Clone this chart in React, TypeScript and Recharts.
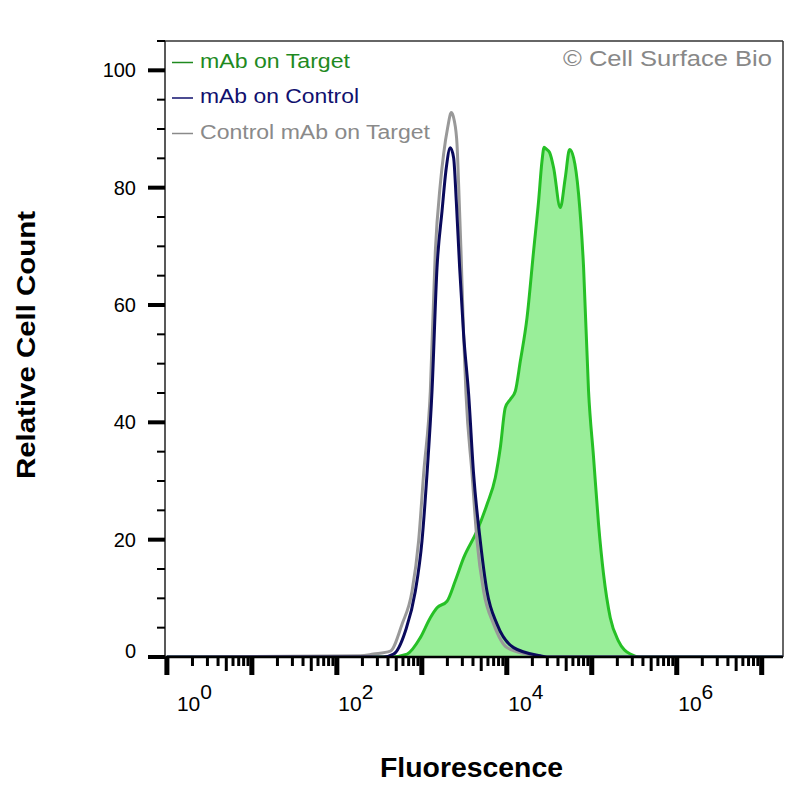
import React from 'react';
import { ComposedChart, Line, Area, XAxis, YAxis, ReferenceLine } from 'recharts';

// Fluorescence (x) / relative cell count (y)
const controlMabOnTarget: [number, number][] = [
  [1, 0], [189, 0.2], [269, 0.5], [426, 1], [585, 5.6], [767, 11.2], [917, 19.8], [1050, 31.2],
  [1259, 45.3], [1442, 69.2], [1651, 80.6], [1804, 85.7], [2013, 90.2], [2223, 92.8], [2411, 91.4],
  [2595, 87.4], [2710, 80.6], [2891, 69.2], [3103, 55], [3311, 44.8], [3900, 31.2], [4460, 19.8],
  [5335, 11.2], [7000, 5.6], [10050, 1.6], [17290, 0.5], [29720, 0], [17800000, 0],
];

const mabOnControl: [number, number][] = [
  [1, 0], [352, 0], [466, 0.5], [640, 4.4], [839, 11.2], [1005, 19.8], [1151, 31.2], [1318, 45.3],
  [1510, 66.4], [1729, 76], [1941, 83.4], [2163, 86.8], [2367, 85.1], [2545, 77.7], [2786, 66.4],
  [3103, 55], [3555, 44.8], [4067, 31.2], [4875, 19.8], [5846, 11.2], [7674, 5.6], [12030, 1.6],
  [24780, 0.2], [29720, 0], [17800000, 0],
];

const mabOnTarget: [number, number][] = [
  [1, 0], [426, 0], [670, 0.5], [960, 3.3], [1259, 6.7], [1510, 8.4], [1979, 9.5], [2478, 13],
  [3103, 16.9], [4460, 21.5], [5846, 26], [7330, 30.6], [8395, 35.7], [9600, 42.5], [10990, 43.9],
  [12590, 45.3], [14420, 50.4], [17290, 57.8], [20670, 69.2], [23660, 77.7], [25940, 84.5],
  [27500, 86.9], [29000, 86.6], [31900, 86], [35560, 83.4], [42590, 76.6], [48780, 81.7],
  [54800, 86.5], [61100, 85.1], [69950, 78.9], [80100, 66.4], [91650, 45.3], [105000, 34],
  [120200, 22.6], [137600, 14.1], [165100, 6.7], [206400, 2.7], [283800, 0.5], [372100, 0],
  [17800000, 0],
];

const yMajorTicks = [0, 20, 40, 60, 80, 100];
const yAllTicks = [0, 5, 10, 15, 20, 25, 30, 35, 40, 45, 50, 55, 60, 65, 70, 75, 80, 85, 90, 95, 100, 105];
const xDecades = [0, 1, 2, 3, 4, 5, 6, 7];
const xLabeledDecades = [0, 2, 4, 6];
const xMinorMantissas = [2, 3, 4, 5, 6, 7, 8, 9];

const legendItems = [
  { label: 'mAb on Target', color: '#1f8a1f', len: 150 },
  { label: 'mAb on Control', color: '#10106e', len: 159 },
  { label: 'Control mAb on Target', color: '#8a8a8a', len: 230 },
];

const toPts = (arr: [number, number][]) => arr.map(([x, y]) => ({ x, y }));

const xTicks: number[] = [];
xDecades.forEach((d) => {
  xTicks.push(Math.pow(10, d));
  if (d < 7) xMinorMantissas.forEach((m) => xTicks.push(m * Math.pow(10, d)));
});

const FONT = '"Liberation Sans", Arial, Helvetica, sans-serif';

const XTick = (props: any) => {
  const { x, y, payload } = props;
  const v = payload.value as number;
  const lg = Math.log10(v);
  const d = Math.round(lg);
  const isMajor = Math.abs(lg - d) < 1e-6;
  if (isMajor) {
    const labeled = xLabeledDecades.includes(d);
    const tx = x + (d === 0 ? 10 : 1.5);
    return (
      <g>
        <rect x={x - 2.5} y={y} width={5} height={18} fill="#000" />
        {labeled && (
          <text x={tx} y={y + 54} fontSize={21} fontFamily={FONT} fill="#000">
            <tspan>10</tspan>
            <tspan dy={-12}>{d}</tspan>
          </text>
        )}
      </g>
    );
  }
  const mant = Math.round(v / Math.pow(10, Math.floor(lg + 1e-9)));
  const h = mant === 5 ? 14 : 9;
  return <rect x={x - 1.5} y={y} width={3} height={h} fill="#000" />;
};

const YTick = (props: any) => {
  const { x, y, payload } = props;
  const v = payload.value as number;
  const isMajor = yMajorTicks.includes(v);
  if (isMajor) {
    return (
      <g>
        <rect x={x - 17} y={y - 2} width={17} height={4} fill="#000" />
        <text x={x - 29} y={y + 7 - (v === 0 ? 6 : 0)} textAnchor="end" fontSize={20} fontFamily={FONT} fill="#000">
          {v}
        </text>
      </g>
    );
  }
  return <rect x={x - 8} y={y - 1} width={8} height={2} fill="#000" />;
};

export default function App() {
  return (
    <div style={{ position: 'absolute', left: 0, top: 0, width: 800, height: 800, background: '#fff' }}>
      <ComposedChart
        width={800}
        height={800}
        margin={{ top: 41, right: 17, bottom: 83, left: 0 }}
      >
        <XAxis
          type="number"
          dataKey="x"
          scale="log"
          domain={[0.95, 17800000]}
          allowDataOverflow
          ticks={xTicks}
          interval={0}
          tickSize={0}
          tickMargin={0}
          tickLine={false}
          tick={<XTick />}
          height={60}
          axisLine={{ stroke: '#000', strokeWidth: 2.5 }}
        />
        <YAxis
          type="number"
          dataKey="y"
          domain={[0, 105]}
          allowDataOverflow
          ticks={yAllTicks}
          interval={0}
          tickSize={0}
          tickMargin={0}
          tickLine={false}
          tick={<YTick />}
          width={165}
          axisLine={{ stroke: '#222', strokeWidth: 1.5 }}
        />
        <ReferenceLine y={105} stroke="#333" strokeWidth={1.5} />
        <ReferenceLine x={17800000} stroke="#333" strokeWidth={1.5} />
        <Line
          data={toPts(controlMabOnTarget)}
          dataKey="y"
          type="monotone"
          stroke="#999999"
          strokeWidth={3}
          dot={false}
          activeDot={false}
          isAnimationActive={false}
        />
        <Line
          data={toPts(mabOnControl)}
          dataKey="y"
          type="monotone"
          stroke="#0a0a5c"
          strokeWidth={3}
          dot={false}
          activeDot={false}
          isAnimationActive={false}
        />
        <Area
          data={toPts(mabOnTarget)}
          dataKey="y"
          type="monotone"
          stroke="#26c026"
          strokeWidth={3}
          fill="#33dd33"
          fillOpacity={0.5}
          dot={false}
          activeDot={false}
          isAnimationActive={false}
        />
      </ComposedChart>
      <svg
        width={800}
        height={800}
        style={{ position: 'absolute', left: 0, top: 0, pointerEvents: 'none' }}
        fontFamily={FONT}
      >
        {legendItems.map((it, i) => (
          <g key={it.label}>
            <line x1={172} x2={193} y1={62.5 + i * 35.5} y2={62.5 + i * 35.5} stroke={it.color} strokeWidth={1.5} />
            <text
              x={200}
              y={67.5 + i * 35.5}
              fontSize={20}
              fill={it.color}
              textLength={it.len}
              lengthAdjust="spacingAndGlyphs"
            >
              {it.label}
            </text>
          </g>
        ))}
        <text x={563} y={66} fontSize={22} fill="#888" textLength={209} lengthAdjust="spacingAndGlyphs">
          © Cell Surface Bio
        </text>
        <text
          x={471.5}
          y={777}
          fontSize={27}
          fontWeight="bold"
          textAnchor="middle"
          fill="#000"
          textLength={183}
          lengthAdjust="spacingAndGlyphs"
        >
          Fluorescence
        </text>
        <text
          transform="translate(35,345) rotate(-90)"
          x={0}
          y={0}
          fontSize={25}
          fontWeight="bold"
          textAnchor="middle"
          fill="#000"
          textLength={268}
          lengthAdjust="spacingAndGlyphs"
        >
          Relative Cell Count
        </text>
      </svg>
    </div>
  );
}
